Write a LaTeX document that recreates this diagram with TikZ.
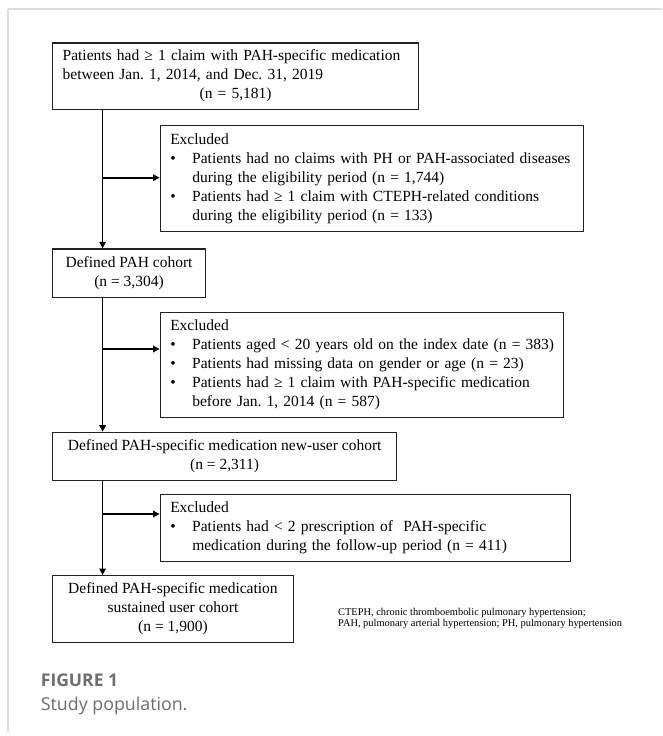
\documentclass[tikz,border=0pt]{standalone}
\usepackage{fontspec}
\setmainfont{Liberation Serif}
\newfontfamily\capfont{Open Sans}
\usetikzlibrary{arrows.meta}
\definecolor{framegray}{HTML}{DDDDDD}
\definecolor{capgray}{HTML}{6E6E70}
\definecolor{boxline}{HTML}{222222}
\newcommand{\bul}{\makebox[22pt][l]{\textbullet}}
\newcommand{\ind}{\hspace*{22pt}}
\hfuzz=50pt
\hbadness=10000
\frenchspacing
\begin{document}
\begin{tikzpicture}[x=1pt,y=-1pt,
  box/.style={draw=boxline, line width=1.3pt, inner xsep=10pt, inner ysep=0pt,
    anchor=north west, font=\fontsize{15.5}{19}\selectfont},
  exbox/.style={box, align=left},
  arr/.style={line width=1.7pt, -{Triangle[length=6.5pt,width=6.5pt]}},
  foot/.style={anchor=north west, align=left, inner sep=0pt,
    font=\fontsize{10.4}{11}\selectfont},
  capstyle/.style={anchor=base west, inner sep=0pt, text=capgray}]
\useasboundingbox (0,0) rectangle (662,736);
\fill[white] (0,0) rectangle (662,736);
% frame
\draw[framegray, line width=2pt] (8.4,9) -- (662,9);
\draw[framegray, line width=2pt] (8.4,9) -- (8.4,732);
% main boxes
\node[box, text width=346pt, minimum height=66.4pt, align=left] (b1) at (52,42.3)
  {\mbox{Patients had ≥ 1 claim with PAH-specific medication}\\
   \mbox{between Jan. 1, 2014, and Dec. 31, 2019}\\
   \makebox[\linewidth][c]{(n = 5,181)}};
\node[box, minimum width=152.8pt, minimum height=48.4pt, align=center] (b2) at (52,248.3)
  {Defined PAH cohort\\(n = 3,304)};
\node[box, minimum width=344pt, minimum height=48.3pt, align=center] (b3) at (52,431.7)
  {Defined PAH-specific medication new-user cohort\\(n = 2,311)};
\node[box, minimum width=240.6pt, minimum height=67pt, align=center] (b4) at (52,575)
  {Defined PAH-specific medication\\sustained user cohort\\(n = 1,900)};
% exclusion boxes
\node[exbox, text width=403pt, minimum height=106pt] (e1) at (159.6,125)
  {\mbox{Excluded}\\
   \mbox{\bul Patients had no claims with PH or PAH-associated diseases}\\
   \mbox{\ind during the eligibility period (n = 1,744)}\\
   \mbox{\bul Patients had ≥ 1 claim with CTEPH-related conditions}\\
   \mbox{\ind during the eligibility period (n = 133)}};
\node[exbox, text width=383.2pt, minimum height=105pt] (e2) at (159.6,311.7)
  {\mbox{Excluded}\\
   \mbox{\bul Patients aged < 20 years old on the index date (n = 383)}\\
   \mbox{\bul Patients had missing data on gender or age (n = 23)}\\
   \mbox{\bul Patients had ≥ 1 claim with PAH-specific medication}\\
   \mbox{\ind before Jan. 1, 2014 (n = 587)}};
\node[exbox, text width=390.4pt, minimum height=67pt] (e3) at (159.6,494)
  {\mbox{Excluded}\\
   \mbox{\bul Patients had < 2 prescription of\ \ PAH-specific}\\
   \mbox{\ind medication during the follow-up period (n = 411)}};
% footnote
\node[foot] (fn) at (338,608.5)
  {CTEPH, chronic thromboembolic pulmonary hypertension;\\
   PAH, pulmonary arterial hypertension; PH, pulmonary hypertension};
% caption
\node[capstyle, font=\capfont\bfseries\fontsize{17.5}{20}\selectfont] (fig) at (40.7,686) {FIGURE 1};
\node[capstyle, font=\capfont\fontsize{17.8}{20}\selectfont] (capt) at (40.7,710) {Study population.};
% connectors
\coordinate (t1) at (102.6,177.7);
\coordinate (t2) at (102.6,349);
\coordinate (t3) at (102.6,514);
\draw[arr] (b1.south -| t1) -- (b2.north -| t1);
\draw[arr] (t1) -- (t1 -| e1.west);
\draw[arr] (b2.south -| t2) -- (b3.north -| t2);
\draw[arr] (t2) -- (t2 -| e2.west);
\draw[arr] (b3.south -| t3) -- (b4.north -| t3);
\draw[arr] (t3) -- (t3 -| e3.west);
\end{tikzpicture}
\end{document}
